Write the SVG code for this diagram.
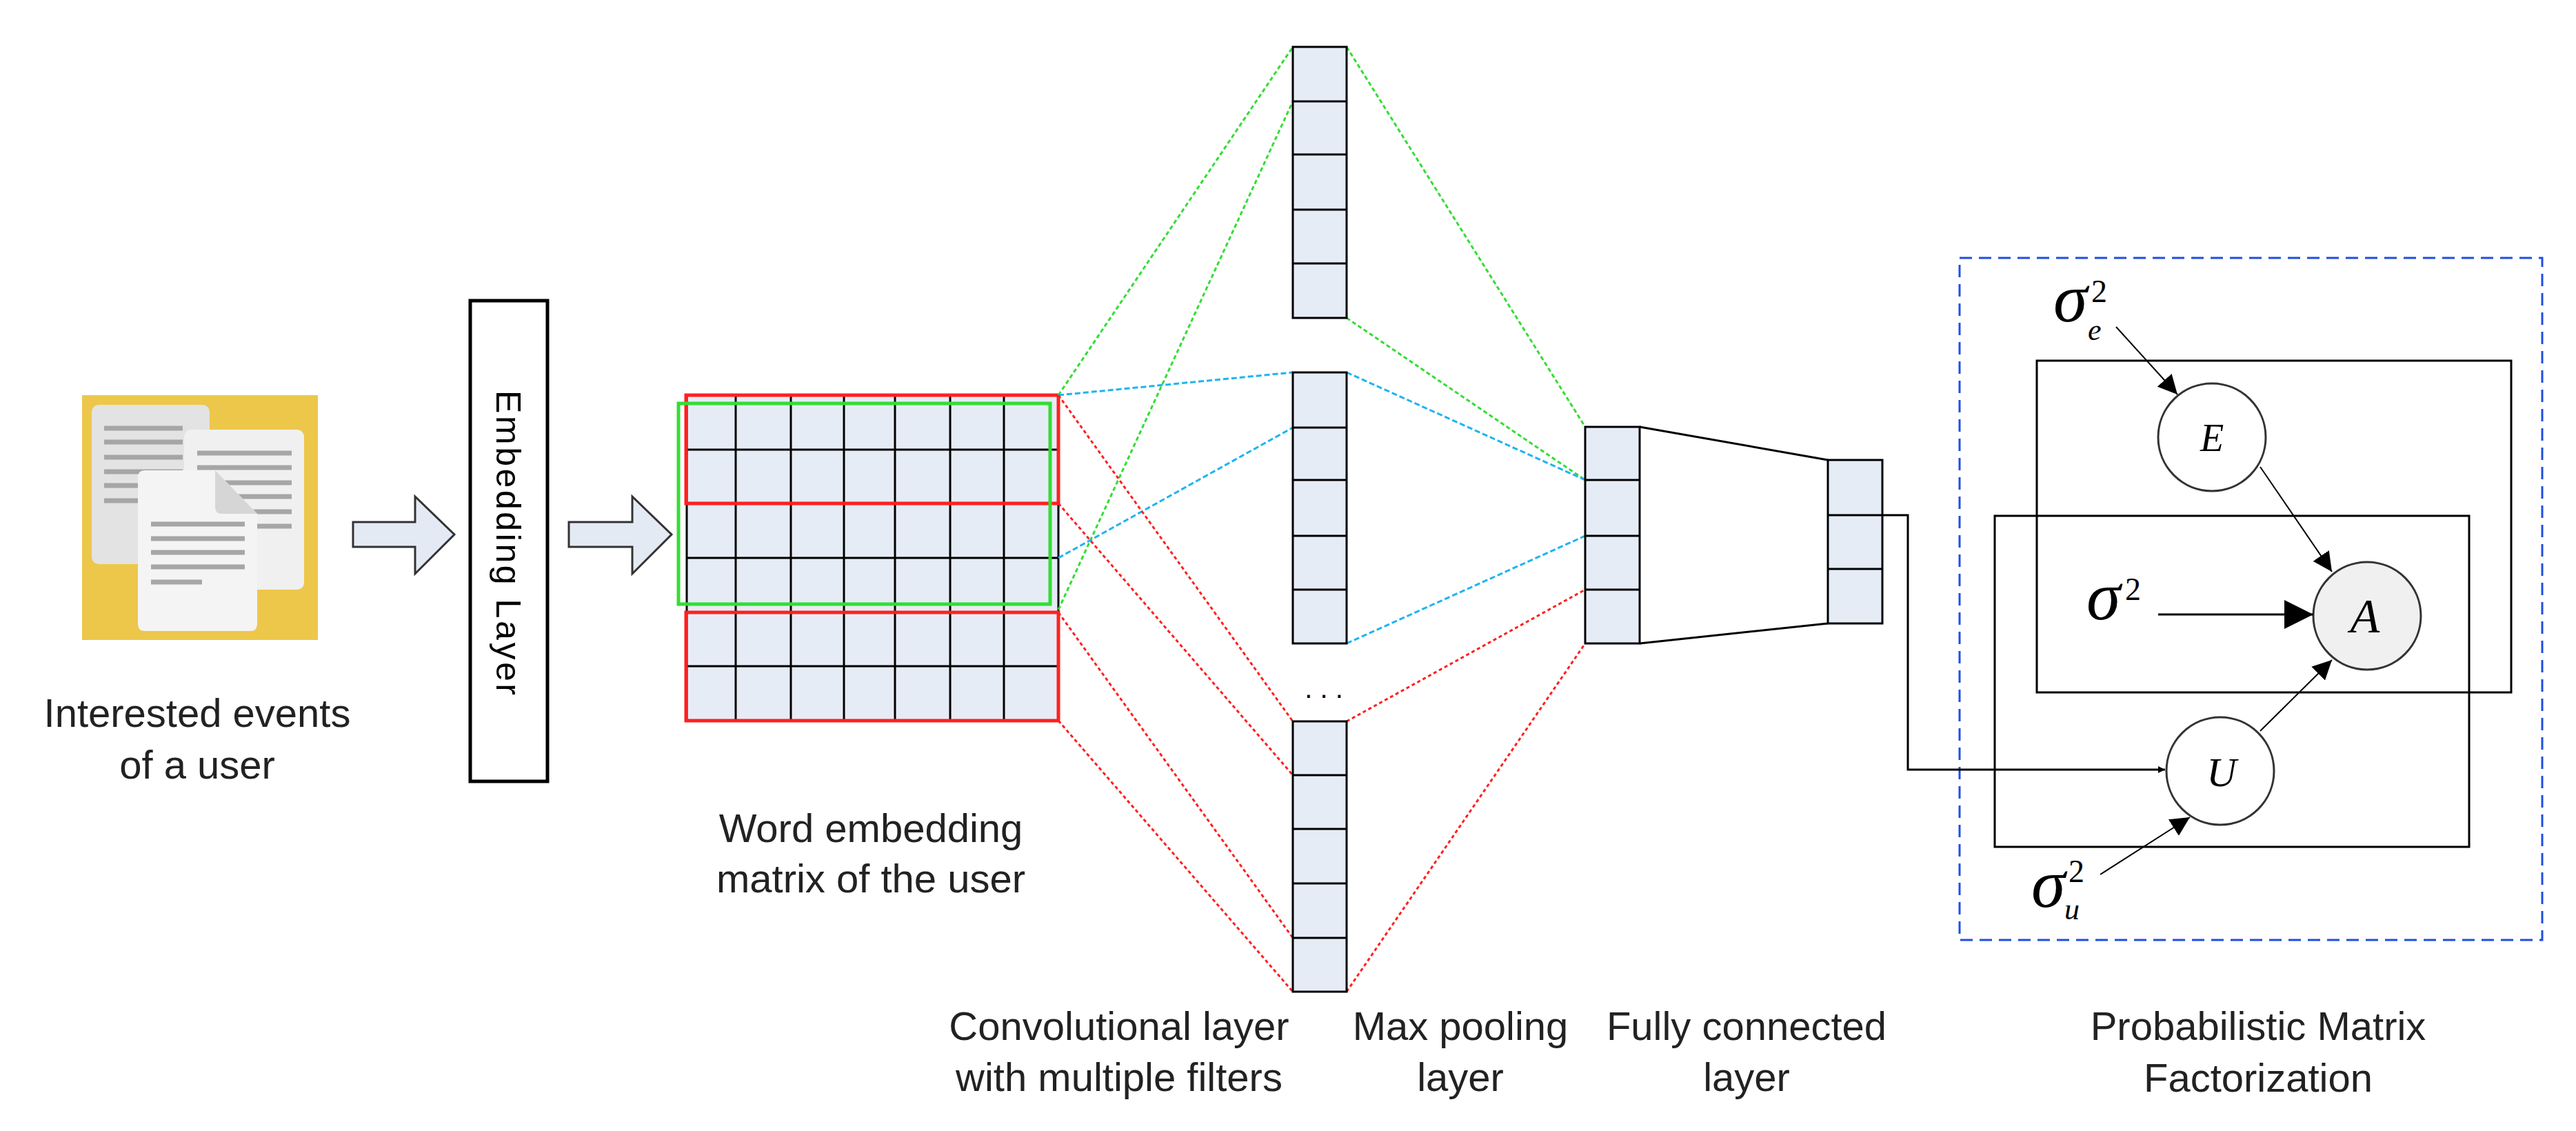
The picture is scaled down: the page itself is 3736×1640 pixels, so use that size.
<svg xmlns="http://www.w3.org/2000/svg" width="3736" height="1640" viewBox="0 0 3736 1640">
<defs>
<style>
.lbl{font-family:"Liberation Sans",Arial,sans-serif;font-size:58px;fill:#222;text-anchor:middle}
.cell{fill:#E6ECF6;stroke:#000;stroke-width:3}
.g{stroke:#000;stroke-width:3}
.dg{stroke:#33DD33;stroke-width:3;stroke-dasharray:6 4;fill:none}
.db{stroke:#1EB4F0;stroke-width:3;stroke-dasharray:8 4;fill:none}
.dr{stroke:#FF2020;stroke-width:3;stroke-dasharray:5 4;fill:none}
.ln{stroke:#000;stroke-width:3;fill:none}
.m{font-family:"Liberation Serif","Times New Roman",serif;font-style:italic;fill:#000}
.sup{font-family:"Liberation Serif","Times New Roman",serif;font-size:46px;fill:#000}
.docl{stroke:#A6A6A6;stroke-width:7}
</style>
<marker id="ah" viewBox="0 0 10 10" refX="10" refY="5" markerWidth="10" markerHeight="10" markerUnits="userSpaceOnUse" orient="auto">
<path d="M0,0 L10,5 L0,10 z" fill="#000"/>
</marker>
<marker id="ah2" viewBox="0 0 10 10" refX="10" refY="5" markerWidth="14" markerHeight="14" orient="auto">
<path d="M0,0 L10,5 L0,10 z" fill="#000"/>
</marker>
</defs>
<rect width="3736" height="1640" fill="#fff"/>

<g id="docs">
<rect x="119" y="573" width="342" height="355" fill="#EDC74A"/>
<rect x="133" y="587" width="171" height="231" rx="10" fill="#E3E3E3"/>
<g class="docl"><line x1="151" y1="621" x2="265" y2="621"/><line x1="151" y1="641" x2="265" y2="641"/><line x1="151" y1="663" x2="265" y2="663"/><line x1="151" y1="684" x2="265" y2="684"/><line x1="151" y1="704" x2="265" y2="704"/><line x1="151" y1="726" x2="265" y2="726"/></g>
<rect x="267" y="623" width="174" height="232" rx="10" fill="#F0F0F0"/>
<g class="docl"><line x1="286" y1="657" x2="423" y2="657"/><line x1="286" y1="678" x2="423" y2="678"/><line x1="286" y1="700" x2="423" y2="700"/><line x1="286" y1="720" x2="423" y2="720"/><line x1="286" y1="742" x2="423" y2="742"/><line x1="286" y1="763" x2="423" y2="763"/></g>
<path d="M210,682 L312,682 L373,745 L373,905 Q373,915 363,915 L210,915 Q200,915 200,905 L200,692 Q200,682 210,682 z" fill="#F4F4F4"/>
<path d="M312,682 L373,745 L322,745 Q312,745 312,735 z" fill="#D6D6D6"/>
<g class="docl"><line x1="219" y1="760" x2="355" y2="760"/><line x1="219" y1="781" x2="355" y2="781"/><line x1="219" y1="801" x2="355" y2="801"/><line x1="219" y1="822" x2="355" y2="822"/><line x1="219" y1="844" x2="293" y2="844"/></g>
<text class="lbl" x="286" y="1054">Interested events</text>
<text class="lbl" x="286" y="1129">of a user</text>
</g>

<g id="arrow1"><path d="M512,757 L602,757 L602,720 L659,775 L602,832 L602,793 L512,793 z" fill="#E4EAF4" stroke="#333" stroke-width="3"/></g>
<g id="embedding-layer">
<rect x="682" y="436" width="112" height="697" fill="#fff" stroke="#000" stroke-width="5"/>
<text x="0" y="0" transform="translate(720,787) rotate(90)" style="font-family:'Liberation Sans',Arial,sans-serif;font-size:50px;fill:#000;text-anchor:middle" textLength="442" lengthAdjust="spacing">Embedding Layer</text>
</g>
<g id="arrow2"><path d="M825,757 L917,757 L917,720 L974,775 L917,832 L917,793 L825,793 z" fill="#E4EAF4" stroke="#333" stroke-width="3"/></g>

<g id="matrix">
<rect x="996" y="573" width="539" height="472" class="cell"/>
<g class="g">
<line x1="1067" y1="573" x2="1067" y2="1045"/><line x1="1147" y1="573" x2="1147" y2="1045"/><line x1="1224" y1="573" x2="1224" y2="1045"/><line x1="1298" y1="573" x2="1298" y2="1045"/><line x1="1378" y1="573" x2="1378" y2="1045"/><line x1="1456" y1="573" x2="1456" y2="1045"/>
<line x1="996" y1="652" x2="1535" y2="652"/><line x1="996" y1="730" x2="1535" y2="730"/><line x1="996" y1="809" x2="1535" y2="809"/><line x1="996" y1="888" x2="1535" y2="888"/><line x1="996" y1="966" x2="1535" y2="966"/>
</g>
<rect x="995" y="573" width="540" height="157" fill="none" stroke="#FF2020" stroke-width="5"/>
<rect x="984" y="585" width="539" height="291" fill="none" stroke="#33DD33" stroke-width="5"/>
<rect x="995" y="888" width="540" height="157" fill="none" stroke="#FF2020" stroke-width="5"/>
<text class="lbl" x="1263" y="1221">Word embedding</text>
<text class="lbl" x="1263" y="1294">matrix of the user</text>
</g>

<g id="conv-connectors">
<line class="dg" x1="1535" y1="573" x2="1875" y2="68"/>
<line class="dg" x1="1535" y1="884" x2="1875" y2="147"/>
<line class="db" x1="1535" y1="573" x2="1875" y2="540"/>
<line class="db" x1="1535" y1="809" x2="1875" y2="620"/>
<line class="dr" x1="1535" y1="573" x2="1875" y2="1046"/>
<line class="dr" x1="1535" y1="730" x2="1875" y2="1124"/>
<line class="dr" x1="1535" y1="888" x2="1875" y2="1360"/>
<line class="dr" x1="1535" y1="1045" x2="1875" y2="1438"/>
<line class="dg" x1="1953" y1="68" x2="2299" y2="619"/>
<line class="dg" x1="1953" y1="461" x2="2299" y2="696"/>
<line class="db" x1="1953" y1="540" x2="2299" y2="696"/>
<line class="db" x1="1953" y1="933" x2="2299" y2="777"/>
<line class="dr" x1="1953" y1="1046" x2="2299" y2="855"/>
<line class="dr" x1="1953" y1="1438" x2="2299" y2="933"/>
</g>

<g id="conv1">
<rect x="1875" y="68" width="78" height="393" class="cell"/>
<g class="g"><line x1="1875" y1="147" x2="1953" y2="147"/><line x1="1875" y1="224" x2="1953" y2="224"/><line x1="1875" y1="304" x2="1953" y2="304"/><line x1="1875" y1="382" x2="1953" y2="382"/></g>
</g>
<g id="conv2">
<rect x="1875" y="540" width="78" height="393" class="cell"/>
<g class="g"><line x1="1875" y1="620" x2="1953" y2="620"/><line x1="1875" y1="696" x2="1953" y2="696"/><line x1="1875" y1="777" x2="1953" y2="777"/><line x1="1875" y1="855" x2="1953" y2="855"/></g>
</g>
<g id="ellipsis"><text x="1920" y="1012" style="font-family:'Liberation Sans',Arial,sans-serif;font-size:40px;fill:#000;text-anchor:middle">. . .</text></g>
<g id="conv3">
<rect x="1875" y="1046" width="78" height="392" class="cell"/>
<g class="g"><line x1="1875" y1="1124" x2="1953" y2="1124"/><line x1="1875" y1="1202" x2="1953" y2="1202"/><line x1="1875" y1="1281" x2="1953" y2="1281"/><line x1="1875" y1="1360" x2="1953" y2="1360"/></g>
</g>
<g id="fc">
<rect x="2299" y="619" width="79" height="314" class="cell"/>
<g class="g"><line x1="2299" y1="696" x2="2378" y2="696"/><line x1="2299" y1="777" x2="2378" y2="777"/><line x1="2299" y1="855" x2="2378" y2="855"/></g>
</g>
<g id="fc-connectors">
<line class="ln" x1="2378" y1="619" x2="2651" y2="667"/>
<line class="ln" x1="2378" y1="933" x2="2651" y2="904"/>
</g>
<g id="out">
<rect x="2651" y="667" width="79" height="237" class="cell"/>
<g class="g"><line x1="2651" y1="747" x2="2730" y2="747"/><line x1="2651" y1="825" x2="2730" y2="825"/></g>
</g>
<text class="lbl" x="1623" y="1508">Convolutional layer</text>
<text class="lbl" x="1623" y="1582">with multiple filters</text>
<text class="lbl" x="2118" y="1508">Max pooling</text>
<text class="lbl" x="2118" y="1582">layer</text>
<text class="lbl" x="2533" y="1508">Fully connected</text>
<text class="lbl" x="2533" y="1582">layer</text>

<g id="pmf">
<rect x="2842" y="374" width="845" height="989" fill="none" stroke="#1F4FE0" stroke-width="3" stroke-dasharray="18 10"/>
<rect x="2954" y="523" width="688" height="481" fill="none" stroke="#000" stroke-width="3"/>
<rect x="2893" y="748" width="688" height="480" fill="none" stroke="#000" stroke-width="3"/>
<text class="lbl" x="3275" y="1508">Probabilistic Matrix</text>
<text class="lbl" x="3275" y="1583">Factorization</text>
</g>
<g id="node-E"><circle cx="3208" cy="634" r="78" fill="#fff" stroke="#333" stroke-width="3"/><text class="m" x="3208" y="654" font-size="56" text-anchor="middle">E</text></g>
<g id="node-A"><circle cx="3433" cy="893" r="78" fill="#F0F0F0" stroke="#333" stroke-width="3"/><text class="m" x="3430" y="917" font-size="70" text-anchor="middle">A</text></g>
<g id="node-U"><circle cx="3220" cy="1118" r="78" fill="#fff" stroke="#333" stroke-width="3"/><text class="m" x="3222" y="1140" font-size="60" text-anchor="middle">U</text></g>
<g id="sig-e"><text class="m" x="2978" y="466" font-size="100">σ</text><text class="m" x="3028" y="493" font-size="44">e</text><text class="sup" x="3033" y="438">2</text></g>
<g id="sig"><text class="m" x="3026" y="898" font-size="100">σ</text><text class="sup" x="3082" y="870">2</text></g>
<g id="sig-u"><text class="m" x="2946" y="1315" font-size="100">σ</text><text class="m" x="2994" y="1333" font-size="44">u</text><text class="sup" x="3000" y="1279">2</text></g>
<g id="pmf-connectors">
<polyline class="ln" points="2730,747 2767,747 2767,1116 3140,1116" marker-end="url(#ah)" style="stroke-width:3"/>
<line x1="3069" y1="474" x2="3158" y2="572" stroke="#000" stroke-width="2" marker-end="url(#ah2)"/>
<line x1="3130" y1="891" x2="3355" y2="891" stroke="#000" stroke-width="3" marker-end="url(#ah2)"/>
<line x1="3278" y1="677" x2="3382" y2="829" stroke="#000" stroke-width="2" marker-end="url(#ah2)"/>
<line x1="3278" y1="1060" x2="3382" y2="957" stroke="#000" stroke-width="2" marker-end="url(#ah2)"/>
<line x1="3046" y1="1268" x2="3176" y2="1185" stroke="#000" stroke-width="2" marker-end="url(#ah2)"/>
</g>
</svg>
